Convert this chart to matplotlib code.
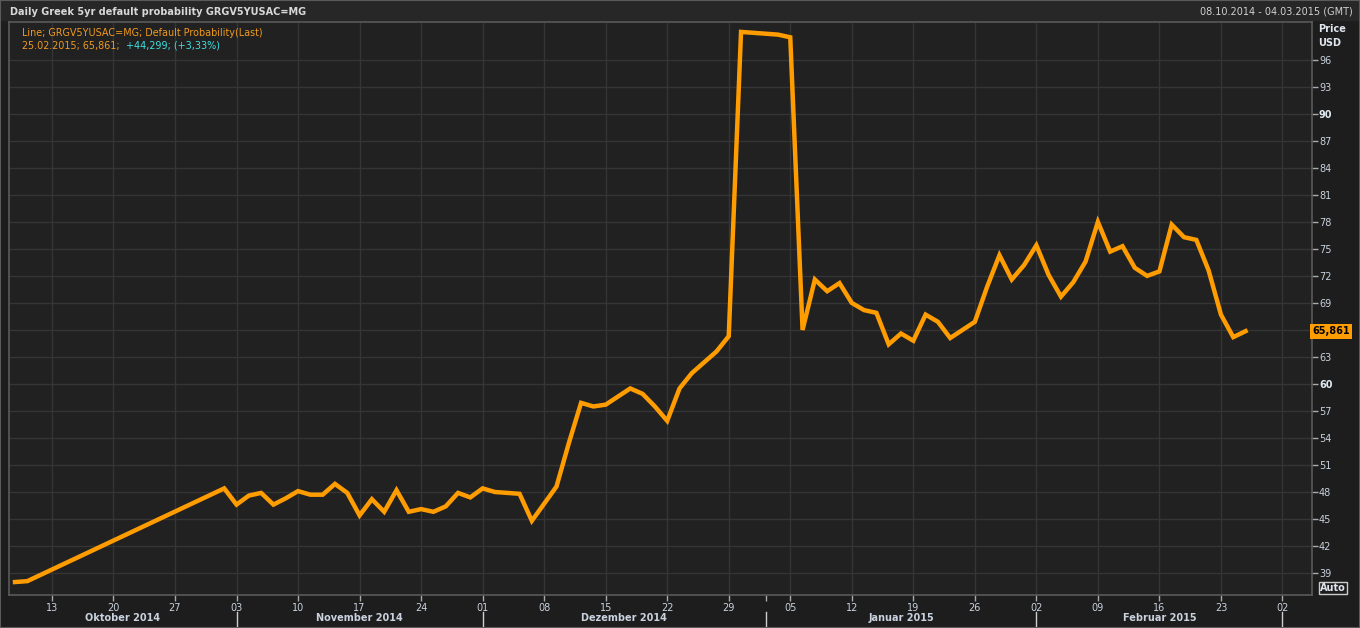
import numpy as np
import matplotlib
matplotlib.use("Agg")
import matplotlib.pyplot as plt
from matplotlib.patches import Rectangle
import matplotlib.transforms as mtrans

# daily closes (business days only)
dates = ["2014-10-08", "2014-10-09", "2014-10-31",
         "2014-11-03", "2014-11-04", "2014-11-05", "2014-11-06", "2014-11-07",
         "2014-11-10", "2014-11-11", "2014-11-12", "2014-11-13", "2014-11-14",
         "2014-11-17", "2014-11-18", "2014-11-19", "2014-11-20", "2014-11-21",
         "2014-11-24", "2014-11-25", "2014-11-26", "2014-11-27", "2014-11-28",
         "2014-12-01", "2014-12-02", "2014-12-03", "2014-12-04", "2014-12-05",
         "2014-12-08", "2014-12-09", "2014-12-10", "2014-12-11", "2014-12-12",
         "2014-12-15", "2014-12-16", "2014-12-17", "2014-12-18", "2014-12-19",
         "2014-12-22", "2014-12-23", "2014-12-24", "2014-12-26",
         "2014-12-29", "2014-12-30", "2014-12-31", "2015-01-02",
         "2015-01-05", "2015-01-06", "2015-01-07", "2015-01-08", "2015-01-09",
         "2015-01-12", "2015-01-13", "2015-01-14", "2015-01-15", "2015-01-16",
         "2015-01-19", "2015-01-20", "2015-01-21", "2015-01-22", "2015-01-23",
         "2015-01-26", "2015-01-27", "2015-01-28", "2015-01-29", "2015-01-30",
         "2015-02-02", "2015-02-03", "2015-02-04", "2015-02-05", "2015-02-06",
         "2015-02-09", "2015-02-10", "2015-02-11", "2015-02-12", "2015-02-13",
         "2015-02-16", "2015-02-17", "2015-02-18", "2015-02-19", "2015-02-20",
         "2015-02-23", "2015-02-24", "2015-02-25"]
values = [38.0, 38.1, 48.4,
          46.6, 47.6, 47.9, 46.6, 47.3,
          48.1, 47.7, 47.7, 48.9, 47.9,
          45.4, 47.2, 45.8, 48.2, 45.8,
          46.1, 45.8, 46.4, 47.9, 47.4,
          48.4, 48.0, 47.9, 47.8, 44.8,
          46.7, 48.6, 53.4, 57.9, 57.5,
          57.7, 58.6, 59.5, 58.9, 57.5,
          55.9, 59.5, 61.2, 63.6,
          65.3, 99.1, 99.0, 98.8,
          98.5, 66.0, 71.6, 70.3, 71.2,
          69.0, 68.2, 67.9, 64.4, 65.6,
          64.8, 67.7, 66.9, 65.1, 66.0,
          66.9, 70.8, 74.3, 71.6, 73.2,
          75.4, 72.1, 69.7, 71.3, 73.6,
          78.0, 74.7, 75.3, 72.9, 72.0,
          72.5, 77.7, 76.3, 76.0, 72.6,
          67.7, 65.2, 65.861]

week_ticks = ["2014-10-13", "2014-10-20", "2014-10-27", "2014-11-03", "2014-11-10",
              "2014-11-17", "2014-11-24", "2014-12-01", "2014-12-08", "2014-12-15",
              "2014-12-22", "2014-12-29", "2015-01-05", "2015-01-12", "2015-01-19",
              "2015-01-26", "2015-02-02", "2015-02-09", "2015-02-16", "2015-02-23",
              "2015-03-02"]
month_starts = ["2014-11-03", "2014-12-01", "2015-01-01", "2015-02-02", "2015-03-02"]
month_names = ["Oktober 2014", "November 2014", "Dezember 2014", "Januar 2015", "Februar 2015"]
y_ticks = list(range(39, 97, 3))

start = "2014-10-08"
def bidx(d):
    return np.busday_count(start, d)

x = bidx(dates)
W, H = 1360, 628
BG = "#1d1d1d"
PLOT_BG = "#212121"
GRID = "#353535"
TXT = "#c9d2de"
ORANGE = "#ff9c00"

fig = plt.figure(figsize=(W / 100, H / 100), dpi=100, facecolor=BG)
fig.patches.append(Rectangle((0, 1 - 21 / H), 1, 21 / H, transform=fig.transFigure,
                             facecolor="#272727", edgecolor="none"))
fig.patches.append(Rectangle((0, 0), 1, 1, transform=fig.transFigure,
                             facecolor="none", edgecolor="#5a5a5a", lw=1.5))

left, right, top, bot = 9, 1312, 22, 595
ax = fig.add_axes([left / W, 1 - bot / H, (right - left) / W, (bot - top) / H])
ax.set_facecolor(PLOT_BG)

ax.plot(x, values, color=ORANGE, lw=3.2, solid_joinstyle="miter", zorder=3)

ax.set_xlim(-0.49, 105.4)
ax.set_ylim(36.56, 100.2)

ax.set_xticks(bidx(week_ticks))
ax.set_xticklabels([d[-2:] for d in week_ticks])
ax.set_xticks([bidx("2015-01-01")], minor=True)
ax.tick_params(axis="x", which="both", length=4, width=1, color="#aaaaaa",
               colors=TXT, labelsize=7, pad=2)
ax.yaxis.tick_right()
ax.set_yticks(y_ticks)
# the 66 label sits under the last-value tag
ax.set_yticklabels(["" if v == 66 else str(v) for v in y_ticks])
ax.tick_params(axis="y", length=4, width=1, color="#aaaaaa", colors=TXT,
               labelsize=7, pad=1)
for lab, v in zip(ax.get_yticklabels(), y_ticks):
    if v % 30 == 0:
        lab.set_fontweight("bold")
        lab.set_color("#e0e8f0")
ax.grid(True, which="major", color=GRID, lw=1)
for s in ax.spines.values():
    s.set_color("#5a5a5a")
    s.set_linewidth(1.2)

# month separators and labels below the day numbers
tr = mtrans.blended_transform_factory(ax.transData, ax.transAxes)
h = bot - top
for d in month_starts:
    xi = bidx(d)
    ax.plot([xi, xi], [-(612 - bot) / h, -(628 - bot) / h], transform=tr,
            color="#cfcfcf", lw=1, clip_on=False)
edges = [-0.49] + [bidx(d) for d in month_starts]
for i, name in enumerate(month_names):
    cx = (edges[i] + edges[i + 1]) / 2
    ax.text(cx, -(618 - bot) / h, name, transform=tr, ha="center", va="center",
            fontsize=7, fontweight="bold", color=TXT)

# header
fig.text(10 / W, 1 - 12 / H, "Daily Greek 5yr default probability GRGV5YUSAC=MG",
         fontsize=7, fontweight="bold", color="#d8d8d8", va="center", ha="left")
fig.text(1353 / W, 1 - 12 / H, "08.10.2014 - 04.03.2015 (GMT)",
         fontsize=7, color="#d0d0d0", va="center", ha="right")

# legend text
fig.text(22 / W, 1 - 33 / H, "Line; GRGV5YUSAC=MG; Default Probability(Last)",
         fontsize=6.9, color="#f09a20", va="center", ha="left")
fig.text(22 / W, 1 - 46 / H, "25.02.2015; 65,861;",
         fontsize=6.9, color="#f09a20", va="center", ha="left")
fig.text(126 / W, 1 - 46 / H, "+44,299; (+3,33%)",
         fontsize=6.9, color="#3fe0e0", va="center", ha="left")

# axis unit
fig.text(1318 / W, 1 - 29 / H, "Price", fontsize=7, fontweight="bold",
         color="#e0e6ee", va="center", ha="left")
fig.text(1318 / W, 1 - 43 / H, "USD", fontsize=7, fontweight="bold",
         color="#e0e6ee", va="center", ha="left")

# last value tag
trr = mtrans.blended_transform_factory(ax.transAxes, ax.transData)
ax.text(1.0, values[-1], "65,861", transform=trr, ha="left", va="center",
        fontsize=7, fontweight="bold", color="black", clip_on=False, zorder=5,
        bbox=dict(boxstyle="square,pad=0.25", facecolor=ORANGE, edgecolor="none"))

# Auto button
fig.text(1333 / W, 1 - 588 / H, "Auto", fontsize=7, fontweight="bold",
         color="#e0e6ee", va="center", ha="center",
         bbox=dict(boxstyle="square,pad=0.15", facecolor=BG, edgecolor="#cccccc", lw=1))

fig.savefig("out.png", dpi=100, facecolor=BG)
